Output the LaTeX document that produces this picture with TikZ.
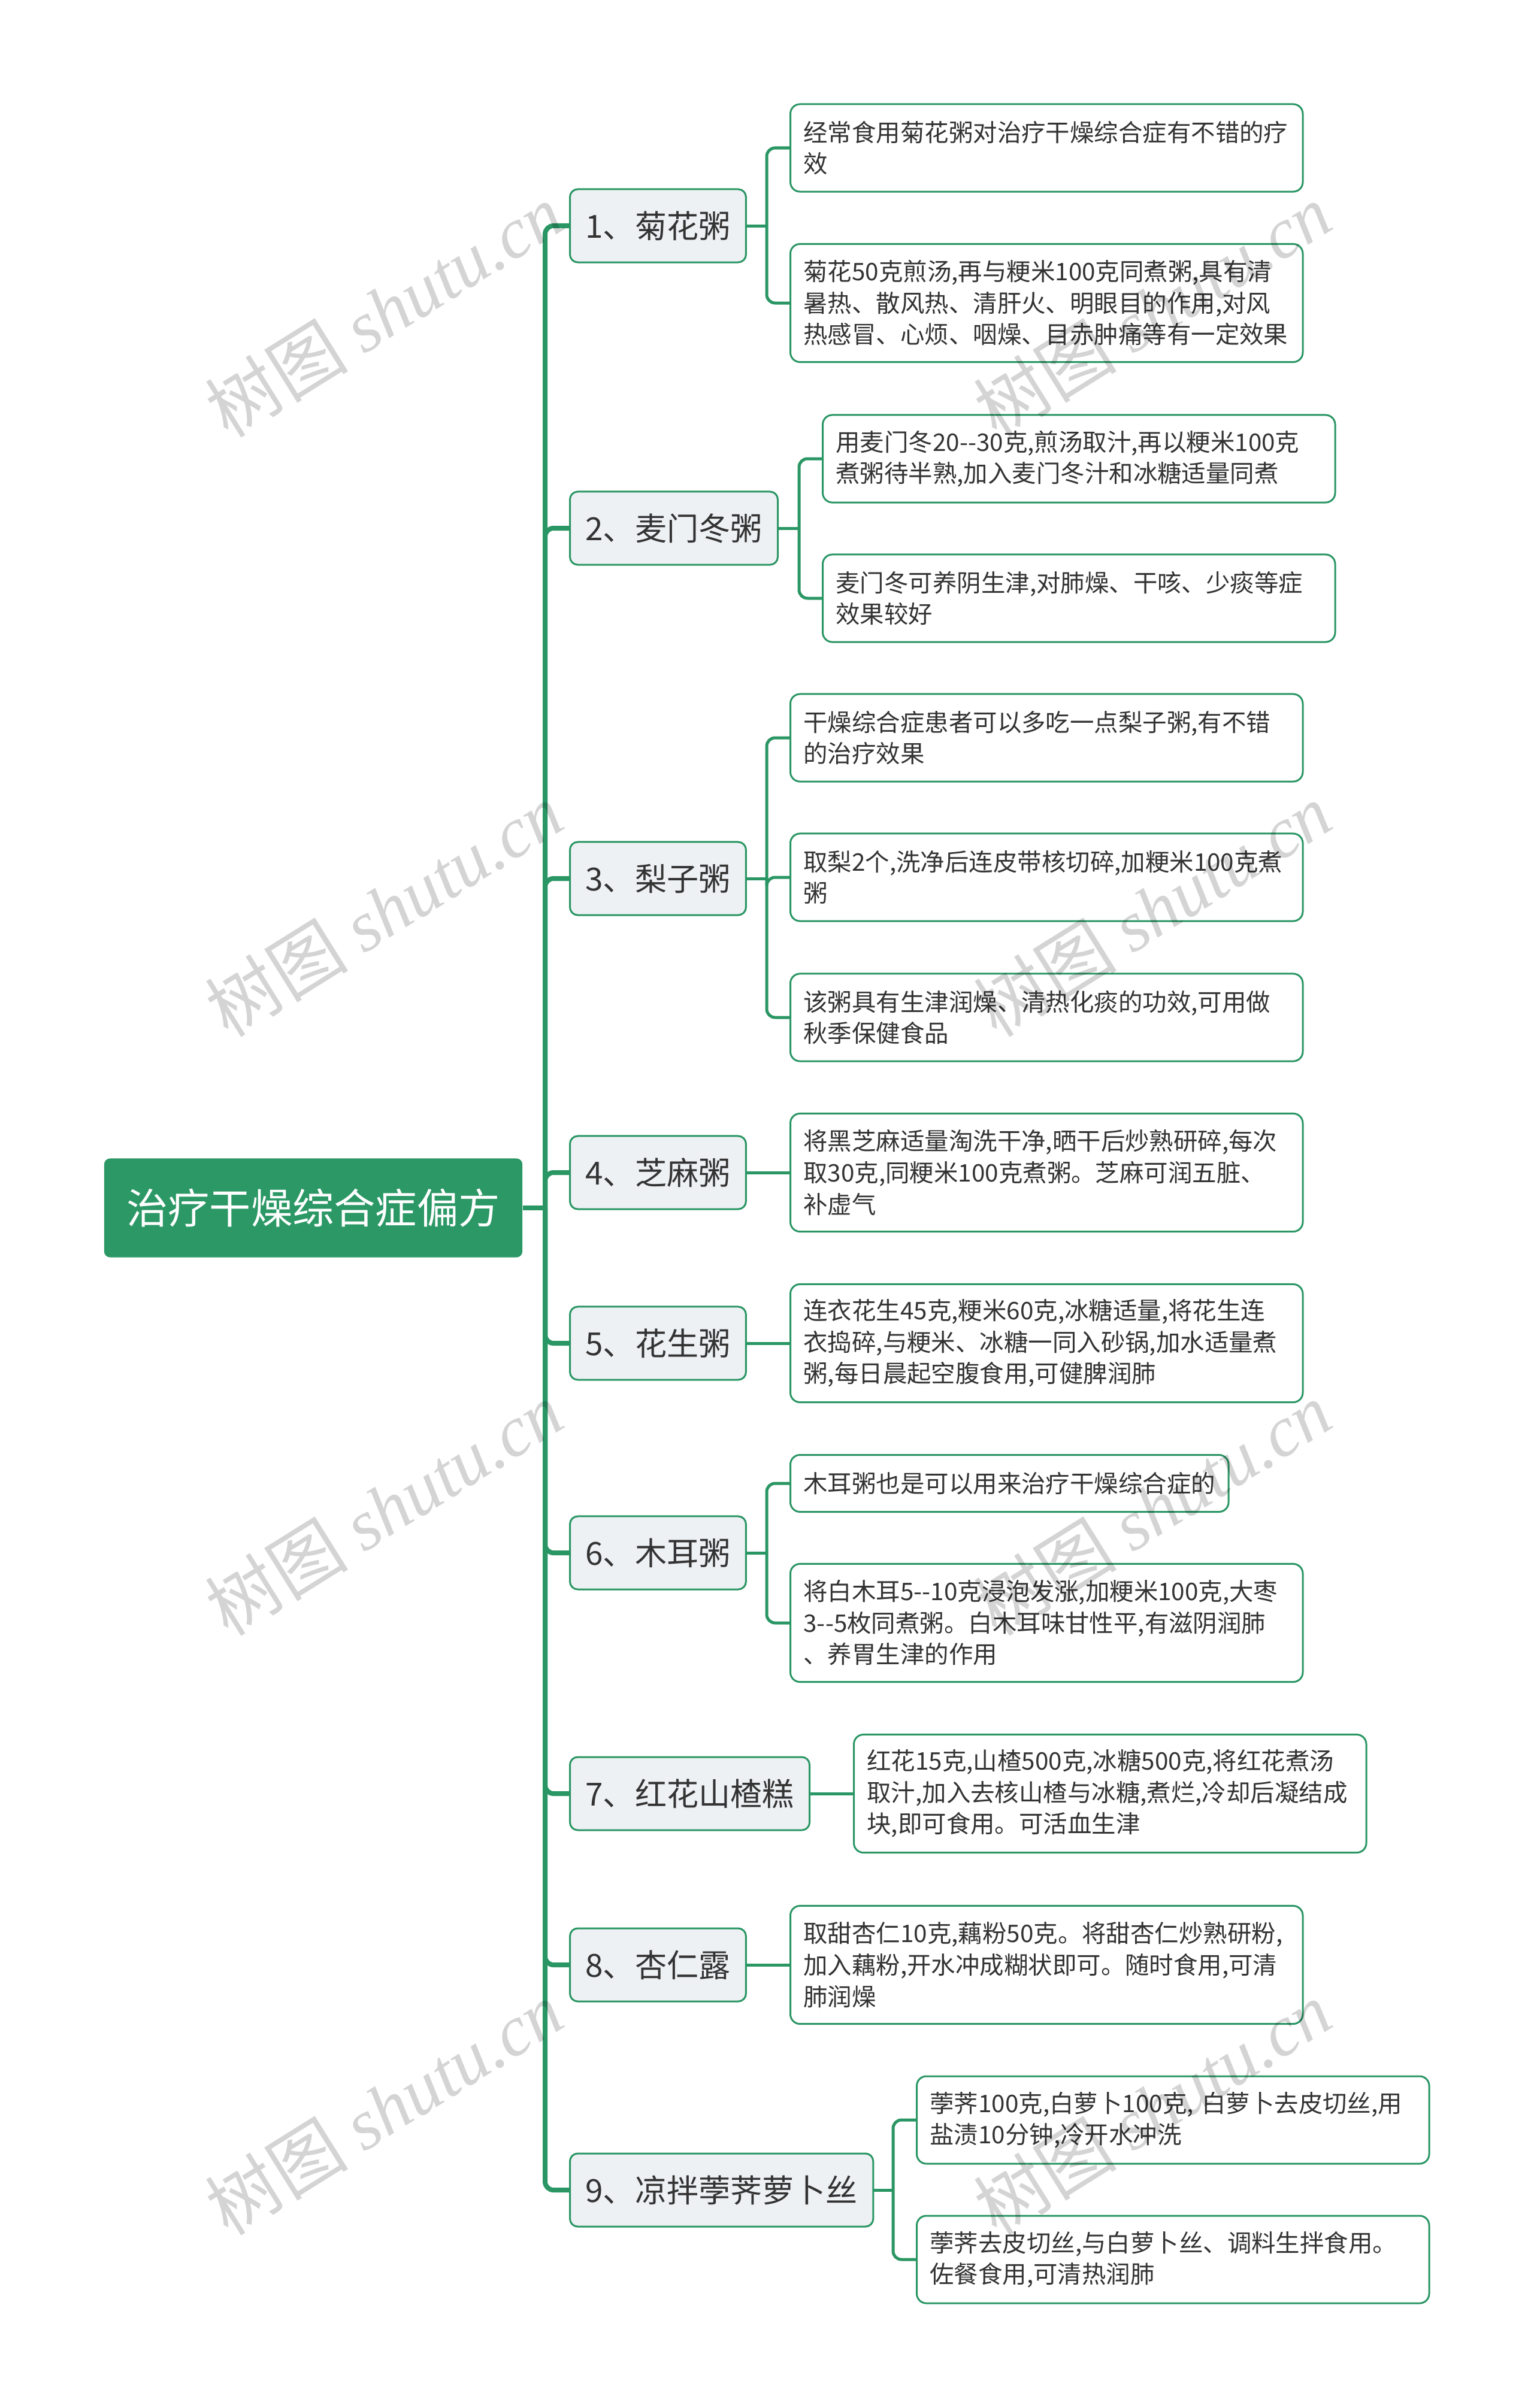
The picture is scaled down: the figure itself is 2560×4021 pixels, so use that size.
\documentclass[tikz,border=0pt]{standalone}
\usepackage{fontspec}
\setmainfont{Noto Sans CJK SC}
\newfontfamily\wmlatin{Liberation Serif}
\definecolor{mapgreen}{HTML}{2A9664}
\definecolor{rootgreen}{HTML}{2B9865}
\definecolor{nodegray}{HTML}{EEF1F4}
\definecolor{inkgray}{HTML}{333333}
\tikzset{
  rootbox/.style={fill=rootgreen, text=white, rounded corners=0.1cm,
    minimum width=6.98cm, minimum height=1.65cm,
    font=\fontsize{19.7pt}{24pt}\selectfont},
  branch/.style={draw=mapgreen, line width=0.03cm, fill=nodegray, text=inkgray,
    rounded corners=0.13cm, anchor=west, minimum height=1.22cm, inner xsep=0.26cm,
    font=\fontsize{15.1pt}{18pt}\selectfont},
  leafbase/.style={draw=mapgreen, line width=0.03cm, fill=white, text=inkgray,
    rounded corners=0.16cm, anchor=west, align=left, inner xsep=0.22cm,
    minimum height=0.95cm, font=\fontsize{11.5pt}{14.94pt}\selectfont},
  leaf/.style={leafbase, text width=8.11cm},
  rows2/.style={minimum height=1.46cm},
  rows3/.style={minimum height=1.97cm},
  link/.style={draw=mapgreen, line width=0.05cm},
  trunk/.style={draw=mapgreen, line width=0.08cm},
  elbow/.style={link, rounded corners=0.14cm},
  wmark/.style={rotate=32, text=black, text opacity=0.17,
    font=\fontsize{34pt}{40pt}\selectfont}
}
\begin{document}
\begin{tikzpicture}[x=0.01cm,y=-0.01cm]
\useasboundingbox (0,0) rectangle (2560,4021);

\node[rootbox] (root) at (523,2017) {治疗干燥综合症偏方};

\node[branch] (n1) at (950,377) {1、菊花粥};
\node[branch] (n2) at (950,882) {2、麦门冬粥};
\node[branch] (n3) at (950,1467) {3、梨子粥};
\node[branch] (n4) at (950,1958) {4、芝麻粥};
\node[branch] (n5) at (950,2243) {5、花生粥};
\node[branch] (n6) at (950,2593) {6、木耳粥};
\node[branch] (n7) at (950,2995) {7、红花山楂糕};
\node[branch] (n8) at (950,3281) {8、杏仁露};
\node[branch] (n9) at (950,3657) {9、凉拌荸荠萝卜丝};

\node[leaf,rows2] (c1a) at (1318,247) {经常食用菊花粥对治疗干燥综合症有不错的疗\\效};
\node[leaf,rows3] (c1b) at (1318,506) {菊花50克煎汤,再与粳米100克同煮粥,具有清\\暑热、散风热、清肝火、明眼目的作用,对风\\热感冒、心烦、咽燥、目赤肿痛等有一定效果};
\node[leaf,rows2] (c2a) at (1372,766) {用麦门冬20-{}-30克,煎汤取汁,再以粳米100克\\煮粥待半熟,加入麦门冬汁和冰糖适量同煮};
\node[leaf,rows2] (c2b) at (1372,999) {麦门冬可养阴生津,对肺燥、干咳、少痰等症\\效果较好};
\node[leaf,rows2] (c3a) at (1318,1232) {干燥综合症患者可以多吃一点梨子粥,有不错\\的治疗效果};
\node[leaf,rows2] (c3b) at (1318,1465) {取梨2个,洗净后连皮带核切碎,加粳米100克煮\\粥};
\node[leaf,rows2] (c3c) at (1318,1699) {该粥具有生津润燥、清热化痰的功效,可用做\\秋季保健食品};
\node[leaf,rows3] (c4a) at (1318,1958) {将黑芝麻适量淘洗干净,晒干后炒熟研碎,每次\\取30克,同粳米100克煮粥。芝麻可润五脏、\\补虚气};
\node[leaf,rows3] (c5a) at (1318,2243) {连衣花生45克,粳米60克,冰糖适量,将花生连\\衣捣碎,与粳米、冰糖一同入砂锅,加水适量煮\\粥,每日晨起空腹食用,可健脾润肺};
\node[leafbase] (c6a) at (1318,2477) {木耳粥也是可以用来治疗干燥综合症的};
\node[leaf,rows3] (c6b) at (1318,2710) {将白木耳5-{}-10克浸泡发涨,加粳米100克,大枣\\3-{}-5枚同煮粥。白木耳味甘性平,有滋阴润肺\\、养胃生津的作用};
\node[leaf,rows3] (c7a) at (1424,2995) {红花15克,山楂500克,冰糖500克,将红花煮汤\\取汁,加入去核山楂与冰糖,煮烂,冷却后凝结成\\块,即可食用。可活血生津};
\node[leaf,rows3] (c8a) at (1318,3281) {取甜杏仁10克,藕粉50克。将甜杏仁炒熟研粉,\\加入藕粉,开水冲成糊状即可。随时食用,可清\\肺润燥};
\node[leaf,rows2] (c9a) at (1529,3540) {荸荠100克,白萝卜100克, 白萝卜去皮切丝,用\\盐渍10分钟,冷开水冲洗};
\node[leaf,rows2] (c9b) at (1529,3773) {荸荠去皮切丝,与白萝卜丝、调料生拌食用。\\佐餐食用,可清热润肺};

% trunk
\coordinate (hub) at (910,2017);
\draw[trunk] (root.east) -- (hub);
\foreach \i in {1,...,9}
  \draw[trunk, rounded corners=0.14cm] (hub) |- (n\i.west);

% brackets
\coordinate (b1) at (1280,377);
\coordinate (b2) at (1334,882);
\coordinate (b3) at (1280,1467);
\coordinate (b6) at (1280,2593);
\coordinate (b9) at (1491,3657);
\foreach \p/\kids in {1/{a,b}, 2/{a,b}, 3/{a,b,c}, 6/{a,b}, 9/{a,b}} {
  \draw[link] (n\p.east) -- (b\p);
  \foreach \k in \kids
    \draw[elbow] (b\p) |- (c\p\k.west);
}
\foreach \p in {4,5,7,8}
  \draw[link] (n\p.east) -- (c\p a.west);

% watermark
\foreach \wx in {641,1924}
  \foreach \wy in {518,1519,2519,3520}
    \node[wmark] (wm-\wx-\wy) at (\wx,\wy) {树图 {\wmlatin\itshape shutu.cn}};
\end{tikzpicture}
\end{document}
